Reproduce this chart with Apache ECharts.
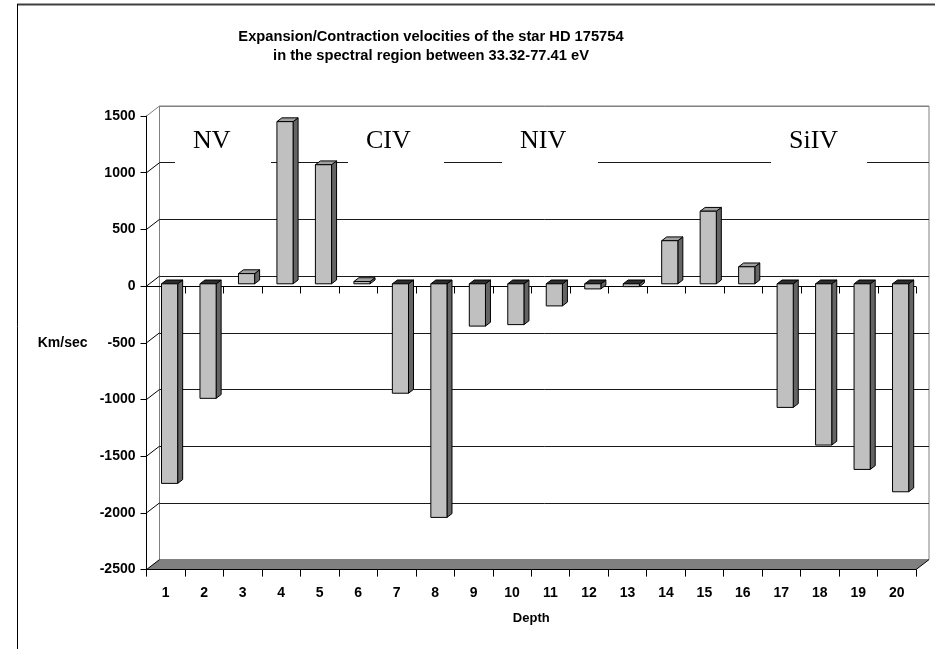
<!DOCTYPE html>
<html>
<head>
<meta charset="utf-8">
<script src="https://cdn.jsdelivr.net/npm/echarts@6/dist/echarts.min.js"></script>
<style>
html,body{margin:0;padding:0;background:#fff;}
#chart{width:935px;height:649px;}
</style>
</head>
<body>
<div id="chart"></div>
<script>
// ---- data ----
var categories = ['1','2','3','4','5','6','7','8','9','10','11','12','13','14','15','16','17','18','19','20'];
var velocities = [-1760,-1010,90,1430,1050,20,-965,-2060,-373,-360,-195,-45,-25,380,640,150,-1090,-1422,-1637,-1834];
var yTicks = [-2500,-2000,-1500,-1000,-500,0,500,1000,1500];
var titleLines = ['Expansion/Contraction velocities of the star HD 175754','in the spectral region between 33.32-77.41 eV'];
var regionLabels = ['NV','CIV','NIV','SiIV'];

// ---- style constants ----
var DX = 13, DY = -10;          // depth of back wall
var FX = 0.1, FY = -2.3;        // bar front plane offset (fraction of band, px)
var BW = 0.42;                  // bar width fraction of band
var BDX = 5, BDY = -3.8;        // bar depth
var FONT = 'Liberation Sans, Arial, sans-serif';

var chart = echarts.init(document.getElementById('chart'), null, {renderer:'canvas'});

function renderBar(params, api) {
  var i = api.value(0), v = api.value(1);
  var p0 = api.coord([i, 0]), p1 = api.coord([i, v]);
  var bw = api.size([1, 0])[0];
  var w = bw * BW, cx = p0[0] + bw * FX;
  var xl = cx - w / 2, xr = cx + w / 2;
  var y0 = p0[1] + FY, y1 = p1[1] + FY;
  var yt = Math.min(y0, y1), yb = Math.max(y0, y1);
  var topColor = v >= 0 ? '#a0a0a0' : '#2e2e2e';
  var st = {stroke:'#000', lineWidth:1};
  return {
    type:'group',
    children:[
      {type:'polygon', shape:{points:[[xr,yt],[xr+BDX,yt+BDY],[xr+BDX,yb+BDY],[xr,yb]]},
        style:Object.assign({fill:'#646464'}, st)},
      {type:'polygon', shape:{points:[[xl,yt],[xr,yt],[xr+BDX,yt+BDY],[xl+BDX,yt+BDY]]},
        style:Object.assign({fill:topColor}, st)},
      {type:'rect', shape:{x:xl, y:yt, width:w, height:Math.max(yb-yt,0.5)},
        style:Object.assign({fill:'#c0c0c0'}, st)}
    ]
  };
}

function renderWalls(params, api) {
  var t = api.value(0);
  var bw = api.size([1, 0])[0];
  var p = api.coord([0, t]);
  var xl = p[0] - bw / 2;
  var pr = api.coord([categories.length - 1, t]);
  var xr = pr[0] + bw / 2;
  var children = [];
  var isTop = t === yTicks[yTicks.length - 1];
  var isBottom = t === yTicks[0];
  if (isBottom) {
    children.push({type:'polygon', shape:{points:[[xl,p[1]],[xr,p[1]],[xr+DX,p[1]+DY],[xl+DX,p[1]+DY]]},
      style:{fill:'#808080', stroke:null}});
    children.push({type:'line', shape:{x1:xr, y1:p[1], x2:xr+DX, y2:p[1]+DY}, style:{stroke:'#000', lineWidth:1}});
  }
  if (Math.abs(t) < 1e-9) {
    // category axis crossing at zero on the front plane
    var yz = Math.round(p[1]) + 0.5;
    children.push({type:'line', shape:{x1:xl, y1:yz, x2:xr, y2:yz}, style:{stroke:'#000', lineWidth:1}});
    for (var k = 1; k <= categories.length; k++) {
      var x = Math.round(xl + k * bw) + 0.5;
      children.push({type:'line', shape:{x1:x, y1:yz, x2:x, y2:yz + 7}, style:{stroke:'#000', lineWidth:1}});
    }
  }
  children.push({type:'line', shape:{x1:xl, y1:p[1], x2:xl+DX, y2:p[1]+DY},
    style:{stroke: isTop ? '#808080' : '#000', lineWidth:1}});
  return {type:'group', children:children};
}

var gridLeft = 146.5, gridTop = 116, gridW = 769.5, gridH = 453.6;

var option = {
  animation:false,
  backgroundColor:'#fff',
  grid:[
    {left:gridLeft, top:gridTop, width:gridW, height:gridH},
    {left:gridLeft+DX, top:gridTop+DY, width:gridW, height:gridH, show:true, borderColor:'#808080', borderWidth:1, backgroundColor:'transparent'}
  ],
  xAxis:[
    {type:'category', gridIndex:0, data:categories, position:'bottom', z:5,
      axisLine:{onZero:false, lineStyle:{color:'#000', width:1}},
      axisTick:{show:true, length:7, lineStyle:{color:'#000'}},
      axisLabel:{color:'#000', fontWeight:'bold', fontSize:14, fontFamily:FONT, margin:17},
      name:'Depth', nameLocation:'middle', nameGap:42,
      nameTextStyle:{color:'#000', fontWeight:'bold', fontSize:13, fontFamily:FONT}},
    {type:'category', gridIndex:1, data:categories, show:false}
  ],
  yAxis:[
    {type:'value', gridIndex:0, min:-2500, max:1500, interval:500, z:5,
      axisLine:{show:true, lineStyle:{color:'#000', width:1}},
      axisTick:{show:true, length:6, lineStyle:{color:'#000'}},
      splitLine:{show:false},
      axisLabel:{color:'#000', fontWeight:'bold', fontSize:14, fontFamily:FONT, margin:11,
        formatter:function(v){ return String(v); }},
      name:'Km/sec', nameLocation:'middle', nameRotate:0, nameGap:59,
      nameTextStyle:{color:'#000', fontWeight:'bold', fontSize:14, fontFamily:FONT}},
    {type:'value', gridIndex:1, min:-2500, max:1500, interval:500,
      axisLine:{show:false}, axisTick:{show:false}, axisLabel:{show:false},
      splitLine:{show:true, lineStyle:{color:['#808080','#1a1a1a','#1a1a1a','#1a1a1a','#1a1a1a','#1a1a1a','#1a1a1a','#1a1a1a','#808080'], width:1}}}
  ],
  series:[
    {type:'custom', name:'walls', xAxisIndex:0, yAxisIndex:0, z:1, silent:true,
      data:yTicks.map(function(t){return [t];}),
      encode:{y:0},
      renderItem:renderWalls},
    {type:'custom', name:'velocity', xAxisIndex:0, yAxisIndex:0, z:3,
      data:velocities.map(function(v, i){return [i, v];}),
      encode:{x:0, y:1},
      renderItem:renderBar}
  ],
  graphic:[
    {type:'line', z:0, shape:{x1:17, y1:4.5, x2:935, y2:4.5}, style:{stroke:'#404040', lineWidth:2}},
    {type:'line', z:0, shape:{x1:17.5, y1:4, x2:17.5, y2:649}, style:{stroke:'#000', lineWidth:1}},
    {type:'text', x:431, y:37, style:{text:titleLines[0], fill:'#000', font:'bold 14.7px ' + FONT, textAlign:'center', textVerticalAlign:'middle'}},
    {type:'text', x:431, y:56, style:{text:titleLines[1], fill:'#000', font:'bold 14.7px ' + FONT, textAlign:'center', textVerticalAlign:'middle'}}
  ]
};

// region label boxes (white boxes hiding part of the back-wall grid line)
var boxLefts = [175, 348, 502, 771];
regionLabels.forEach(function(lbl, k){
  option.graphic.push({type:'rect', z:2, shape:{x:boxLefts[k], y:120, width:96, height:47}, style:{fill:'#fff', stroke:null}});
  option.graphic.push({type:'text', z:2, x:boxLefts[k] + 18, y:141, style:{text:lbl, fill:'#000', font:'26px Liberation Serif, Times New Roman, serif', textAlign:'left', textVerticalAlign:'middle'}});
});

chart.setOption(option);
</script>
</body>
</html>
